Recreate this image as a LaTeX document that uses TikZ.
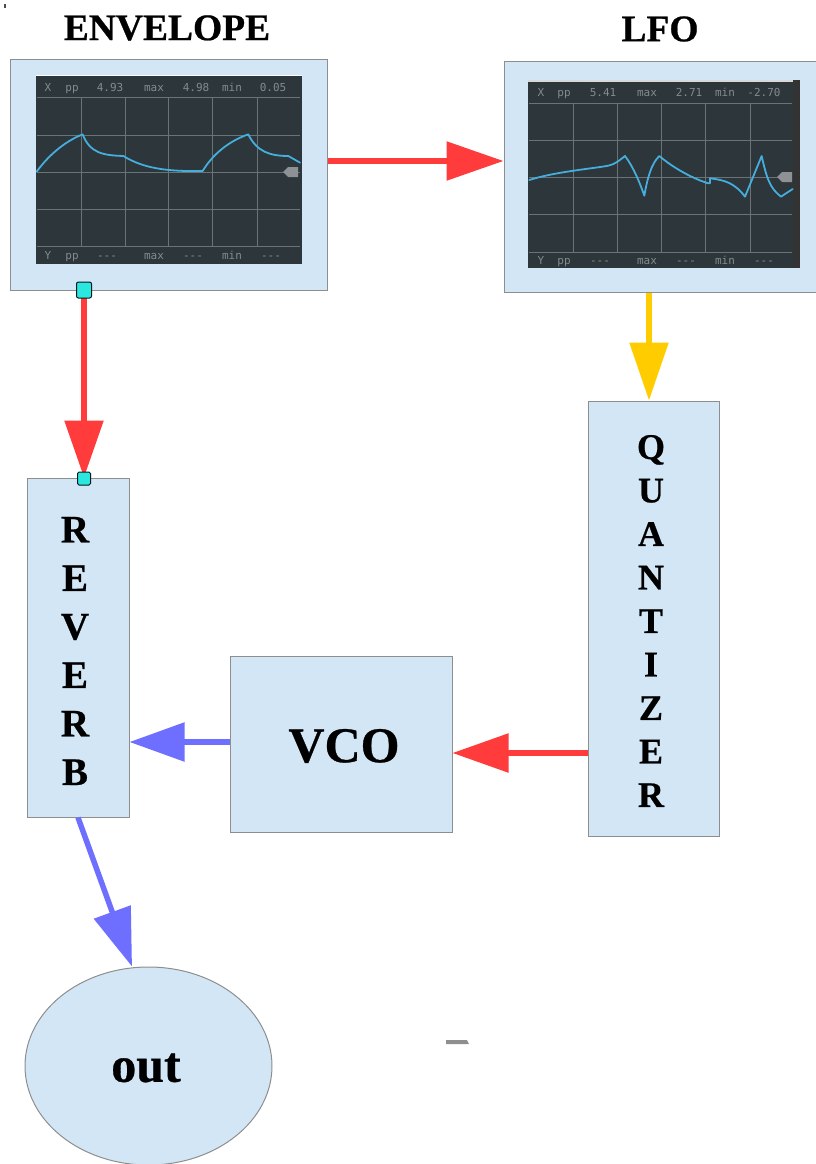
\documentclass[tikz,border=0pt]{standalone}
\usepackage{fontspec}
\setmainfont{Liberation Serif}[BoldFeatures={FakeBold=0.6}]
\newfontfamily\scopefont{DejaVu Sans Mono}
\usetikzlibrary{arrows.meta,shapes.geometric}
\definecolor{boxfill}{HTML}{D2E6F5}
\definecolor{boxline}{HTML}{8E8E8E}
\definecolor{wirered}{HTML}{FF3B3B}
\definecolor{wireyellow}{HTML}{FFCC00}
\definecolor{wireblue}{HTML}{6F6FFF}
\definecolor{screen}{HTML}{2C363B}
\definecolor{gridc}{HTML}{6C7376}
\definecolor{scopetext}{HTML}{858B8D}
\definecolor{trace}{HTML}{45AEDC}
\definecolor{portc}{HTML}{2CE6E0}
\definecolor{tagc}{HTML}{8F9294}
\tikzset{
  modulebox/.style={draw=boxline,fill=boxfill,line width=1pt,inner sep=0pt,rectangle},
  wire/.style={line width=5.5pt,-{Triangle[length=#1,width=38pt]}},
  wire/.default=57pt,
  title/.style={font=\fontsize{37.5}{40}\selectfont\bfseries,inner sep=0pt},
  stack/.style={font=\fontsize{#1}{#1}\selectfont\bfseries,inner sep=0pt,align=center},
  port/.style={draw=black!80!teal,fill=portc,rounded corners=2pt,line width=1pt,inner sep=0pt},
  readout/.style={font=\scopefont\fontsize{11}{12}\selectfont,text=scopetext,inner sep=0pt,anchor=base},
  gridline/.style={draw=gridc,line width=1pt},
  tracestyle/.style={draw=trace,line width=1.8pt,line join=round,line cap=round},
  tag/.style={fill=tagc,draw=none},
}
\begin{document}
\begin{tikzpicture}[x=1pt,y=-1pt]
\useasboundingbox (0,0) rectangle (815,1164);
% module boxes
\node[modulebox,minimum width=317pt,minimum height=230pt] (env) at (168.5,175) {};
\node[modulebox,minimum width=322pt,minimum height=230pt] (lfo) at (665,177) {};
\node[modulebox,minimum width=131pt,minimum height=435pt] (quant) at (653.5,618.5) {};
\node[modulebox,minimum width=102pt,minimum height=339pt] (reverb) at (78,647.5) {};
\node[modulebox,minimum width=222pt,minimum height=176pt] (vco) at (341,744) {};
\node[draw=boxline,fill=boxfill,line width=1pt,ellipse,inner sep=0pt,minimum width=247pt,minimum height=198pt] (out) at (148.5,1066) {};
% titles and labels
\node[title] (envtitle) at (167,28) {ENVELOPE};
\node[title] (lfotitle) at (660,29) {LFO};
\node[stack=39,text width=60pt,anchor=center] (revlabel) at (75,651) {\baselineskip=48.5pt R\\E\\V\\E\\R\\B\par};
\node[stack=36,text width=60pt,anchor=center] (quantlabel) at (651,621) {\baselineskip=43.5pt Q\\U\\A\\N\\T\\I\\Z\\E\\R\par};
\node[font=\fontsize{50}{50}\selectfont\bfseries,inner sep=0pt] (vcolabel) at (344,746) {VCO};
\node[font=\fontsize{50}{50}\selectfont\bfseries,inner sep=0pt] (outlabel) at (146,1068) {out};
% envelope scope
\fill[screen] (36,76) rectangle (302,264);
\draw[white,line width=1.2pt] (36,75.5) -- (302,75.5);
\foreach \gx in {81,125,168,212,257} \draw[gridline] (\gx,97) -- (\gx,246);
\foreach \gy in {97,135,172,209,246} \draw[gridline] (37,\gy) -- (300,\gy);
\foreach \tx/\tt/\ty in {48/X/91,72/pp/91,110/4.93/91,154/max/91,196/4.98/91,232/min/91,273/0.05/91,
                        48/Y/259,72/pp/259,107/---/259,154/max/259,193/---/259,232/min/259,271/---/259}
  \node[readout] (envr\tx\ty) at (\tx,\ty) {\tt};
\fill[tag] (283,172) -- (288,167) -- (298,167) -- (298,177) -- (288,177) -- cycle;
\begin{scope}[shift={(0,50)},x=0.33333pt,y=-0.33333pt]
\draw[tracestyle] (110,365) .. controls (150,310) and (200,272) .. (248,253)
  .. controls (270,310) and (310,316) .. (370,318)
  .. controls (430,355) and (500,365) .. (608,363)
  .. controls (640,310) and (690,272) .. (745,253)
  .. controls (770,305) and (810,318) .. (865,318) -- (900,338);
\end{scope}
% lfo scope
\fill[screen] (528,81) rectangle (793,268);
\fill[black!80] (793,80) rectangle (800,268);
\draw[black!15,line width=1.2pt] (528,81) -- (793,81);
\foreach \gx in {573,617,661,705,750} \draw[gridline] (\gx,103) -- (\gx,252);
\foreach \gy in {103,140,177,214,252} \draw[gridline] (529,\gy) -- (792,\gy);
\foreach \tx/\tt/\ty in {541/X/96,564/pp/96,603/5.41/96,647/max/96,689/2.71/96,725/min/96,764/-2.70/96,
                        541/Y/264,564/pp/264,600/---/264,647/max/264,686/---/264,725/min/264,764/---/264}
  \node[readout] (lfor\tx\ty) at (\tx,\ty) {\tt};
\fill[tag] (777,177) -- (782,172) -- (792,172) -- (792,182) -- (782,182) -- cycle;
\begin{scope}[shift={(495,50)},x=0.33333pt,y=-0.33333pt]
\draw[tracestyle] (103,390) .. controls (180,365) and (300,355) .. (340,347)
  .. controls (360,343) and (375,330) .. (390,318)
  .. controls (415,350) and (435,400) .. (448,437)
  .. controls (458,380) and (470,340) .. (493,318)
  .. controls (530,350) and (590,385) .. (640,400)
  -- (645,400) -- (645,385)
  .. controls (690,390) and (720,400) .. (750,440)
  -- (800,318)
  .. controls (815,385) and (825,415) .. (858,440)
  -- (893,417);
\end{scope}
% connectors
\draw[wirered,wire] (env.east |- 0,161) -- (lfo.west |- 0,161);
\draw[wireyellow,wire=58pt] (lfo.south -| 649,0) -- (quant.north -| 649,0);
\draw[wirered,wire=56pt] (quant.west |- 0,753) -- (vco.east |- 0,753);
\draw[wireblue,wire=55pt] (vco.west |- 0,742) -- (reverb.east |- 0,742);
\draw[wireblue,wire=58pt] (reverb.south -| 78,0) -- (out.north -| 132,0);
\draw[wirered,wire] (env.south -| 84,0) -- (reverb.north -| 84,0);
\node[port,minimum width=15pt,minimum height=16pt] (envport) at (84,290) {};
\node[port,minimum width=13pt,minimum height=13pt,rounded corners=1.5pt] (revport) at (84,478.5) {};
% stray marks
\fill[boxline] (446,1040) -- (467,1040) -- (469,1044) -- (446,1044) -- cycle;
\fill[black!70] (3.5,4) rectangle (6,8);
\end{tikzpicture}
\end{document}
